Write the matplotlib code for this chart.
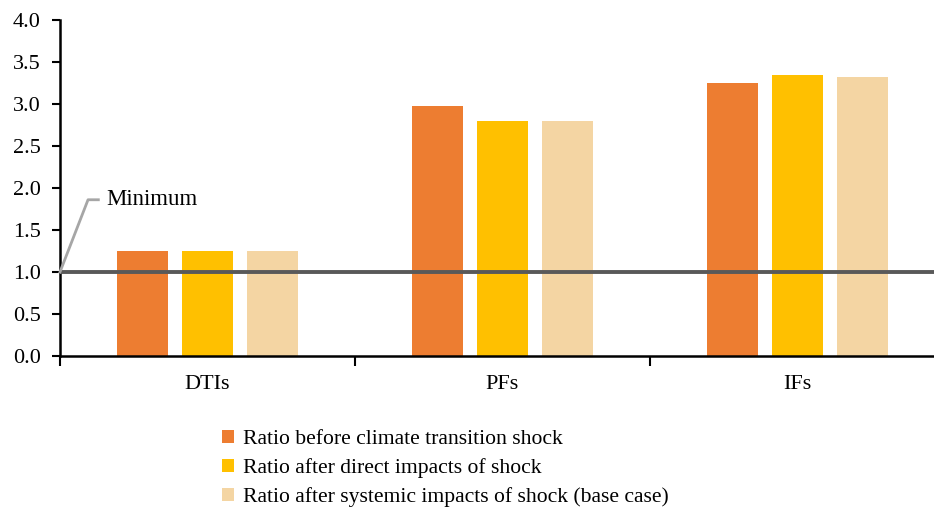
import matplotlib.pyplot as plt
import numpy as np

categories = ["DTIs", "PFs", "IFs"]
series_names = ["Ratio before climate transition shock",
                "Ratio after direct impacts of shock",
                "Ratio after systemic impacts of shock (base case)"]
before = [1.25, 2.98, 3.25]
direct = [1.25, 2.80, 3.34]
systemic = [1.25, 2.80, 3.32]
minimum = 1.0

colors = ["#ED7D31", "#FFC000", "#F4D5A3"]

plt.rcParams['font.family'] = ['Liberation Serif', 'DejaVu Serif']

fig = plt.figure(figsize=(9.34, 5.09), dpi=100)
# the plot area runs a little past the right edge of the figure
ax = fig.add_axes([60 / 934, 1 - 356 / 509, 885 / 934, 336 / 509])

x = np.arange(len(categories))
width = 0.173
step = 0.22
for i, (vals, name) in enumerate(zip([before, direct, systemic], series_names)):
    ax.bar(x + (i - 1) * step, vals, width, color=colors[i], label=name, zorder=2)

ax.axhline(minimum, color="#595959", linewidth=2.8, zorder=3)

ax.set_xlim(-0.5, 2.5)
ax.set_ylim(0, 4)
ax.set_yticks(np.arange(0, 4.01, 0.5))
ax.set_yticklabels([f"{v:.1f}" for v in np.arange(0, 4.01, 0.5)], fontsize=16)
ax.set_xticks(x)
ax.set_xticklabels(categories, fontsize=16)
ax.set_xticks([-0.5, 0.5, 1.5, 2.5], minor=True)
ax.tick_params(axis="x", which="major", length=0, pad=14)
ax.tick_params(axis="x", which="minor", length=7, width=1.5, color="black")
ax.tick_params(axis="y", length=6, width=1.5, pad=8)

for side in ["top", "right"]:
    ax.spines[side].set_visible(False)
ax.spines["left"].set_linewidth(1.8)
ax.spines["bottom"].set_linewidth(1.8)

# callout for the minimum line
ax.plot([-0.5, -0.405, -0.37], [minimum, 1.86, 1.86], color="#A6A6A6",
        linewidth=2, clip_on=False, zorder=4)
ax.text(-0.343, 1.86, "Minimum", fontsize=16.5, va="center", ha="left")

fig.legend(loc="lower left", bbox_to_anchor=(209 / 934, -0.022), frameon=False,
           fontsize=15.6, handlelength=0.55, handleheight=0.55, handletextpad=0.4,
           labelspacing=0.42, borderaxespad=0.2)

fig.savefig("out.png", dpi=100)
